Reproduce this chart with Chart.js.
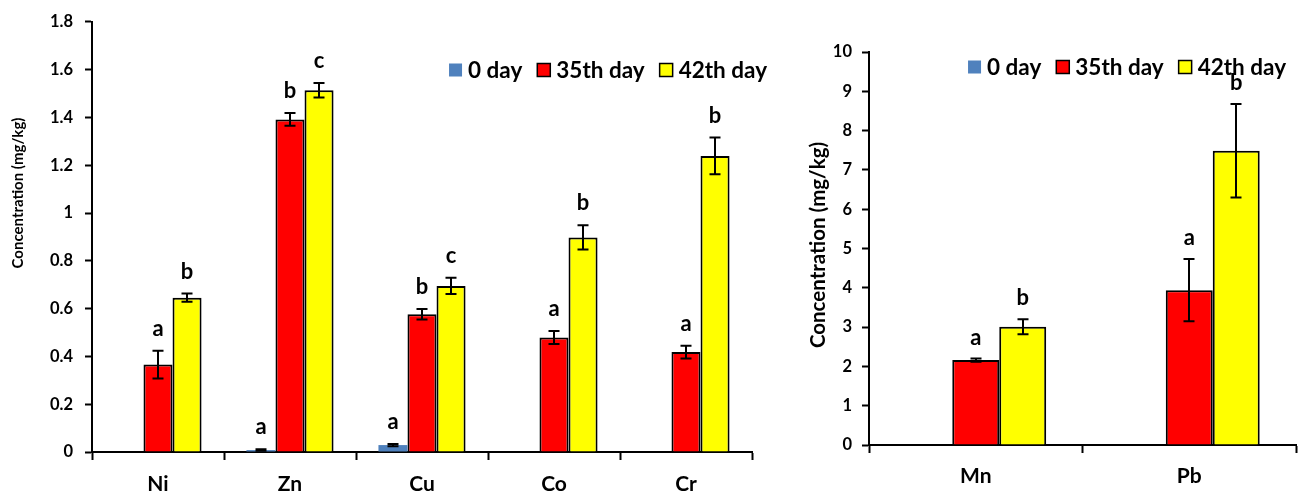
<!DOCTYPE html>
<html>
<head>
<meta charset="utf-8">
<script src="https://cdn.jsdelivr.net/npm/chart.js@4"></script>
<style>
  html, body { margin: 0; padding: 0; background: #fff; }
  #wrap { position: relative; width: 1303px; height: 494px; }
  #cL { position: absolute; left: 0; top: 0; }
  #cR { position: absolute; left: 790px; top: 0; }
</style>
</head>
<body>
<div id="wrap">
  <canvas id="cL" width="790" height="494"></canvas>
  <canvas id="cR" width="513" height="494"></canvas>
</div>
<script>
// ---------- data ----------
const seriesLabels = ['0 day', '35th day', '42th day'];

const categoriesL = ['Ni', 'Zn', 'Cu', 'Co', 'Cr'];
const day0L  = [null, 0.008, 0.029, null, null];
const day35L = [0.366, 1.392, 0.576, 0.479, 0.418];
const day42L = [0.646, 1.514, 0.695, 0.898, 1.239];
const err0L  = [null, 0.003, 0.005, null, null];
const err35L = [0.058, 0.027, 0.022, 0.027, 0.027];
const err42L = [0.017, 0.030, 0.034, 0.051, 0.077];
const let0L  = ['', 'a', 'a', '', ''];
const let35L = ['a', 'b', 'b', 'a', 'a'];
const let42L = ['b', 'c', 'c', 'b', 'b'];
const yTicksL = { min: 0, max: 1.8, step: 0.2 };

const categoriesR = ['Mn', 'Pb'];
const day0R  = [null, null];
const day35R = [2.16, 3.94];
const day42R = [3.01, 7.49];
const err0R  = [null, null];
const err35R = [0.04, 0.79];
const err42R = [0.19, 1.19];
const let0R  = ['', ''];
const let35R = ['a', 'a'];
const let42R = ['b', 'b'];
const yTicksR = { min: 0, max: 10, step: 1 };

const yTitle = 'Concentration (mg/kg)';

// ---------- styles ----------
const FONT = 'Lato, "Open Sans", sans-serif';
const colors = ['#4F81BD', '#FF0000', '#FFFF00'];
const borders = [0, 2, 2];

// ---------- plugins ----------
const errorBarsPlugin = {
  id: 'errorBars',
  afterDatasetsDraw(chart, args, opts) {
    const ctx = chart.ctx;
    const ys = chart.scales.y;
    ctx.save();
    ctx.strokeStyle = '#000';
    ctx.lineWidth = opts.lineWidth;
    chart.data.datasets.forEach((ds, i) => {
      const meta = chart.getDatasetMeta(i);
      meta.data.forEach((el, j) => {
        const v = ds.data[j], e = ds.errors[j];
        if (v == null || e == null) return;
        const x = Math.round(el.x);
        const yt = ys.getPixelForValue(v + e);
        const yb = ys.getPixelForValue(Math.max(0, v - e));
        ctx.beginPath();
        ctx.moveTo(x, yt); ctx.lineTo(x, yb);
        ctx.moveTo(x - opts.cap, yt); ctx.lineTo(x + opts.cap, yt);
        ctx.moveTo(x - opts.cap, yb); ctx.lineTo(x + opts.cap, yb);
        ctx.stroke();
      });
    });
    // letters
    ctx.fillStyle = '#000';
    ctx.font = 'bold ' + opts.letterSize + 'px ' + FONT;
    ctx.textAlign = 'center';
    ctx.textBaseline = 'middle';
    chart.data.datasets.forEach((ds, i) => {
      const meta = chart.getDatasetMeta(i);
      meta.data.forEach((el, j) => {
        const v = ds.data[j], e = ds.errors[j] || 0, l = ds.letters[j];
        if (v == null || !l) return;
        const yt = ys.getPixelForValue(v + e);
        ctx.fillText(l, el.x, yt - opts.letterOffset);
      });
    });
    ctx.restore();
  }
};

const customLegendPlugin = {
  id: 'customLegend',
  afterDraw(chart, args, opts) {
    const ctx = chart.ctx;
    ctx.save();
    ctx.font = 'bold ' + opts.size + 'px ' + FONT;
    ctx.textBaseline = 'middle';
    ctx.textAlign = 'left';
    const sq = opts.box, gapIn = 6, gapOut = 15;
    const items = chart.data.datasets.map(d => ({ label: d.label, bg: d.backgroundColor, bw: d.borderWidth }));
    let total = 0;
    items.forEach((it, k) => {
      total += sq + gapIn + ctx.measureText(it.label).width + (k < items.length - 1 ? gapOut : 0);
    });
    let x = opts.right - total;
    const y = opts.y;
    items.forEach(it => {
      ctx.fillStyle = it.bg;
      ctx.fillRect(x, y - sq / 2, sq, sq);
      if (it.bw) {
        ctx.strokeStyle = '#000';
        ctx.lineWidth = 1.5;
        ctx.strokeRect(x, y - sq / 2, sq, sq);
      }
      x += sq + gapIn;
      ctx.fillStyle = '#000';
      ctx.fillText(it.label, x, y + 1);
      x += ctx.measureText(it.label).width + gapOut;
    });
    // y title
    ctx.font = 'bold ' + opts.titleSize + 'px ' + FONT;
    ctx.textAlign = 'center';
    ctx.translate(opts.titleX, opts.titleY);
    ctx.rotate(-Math.PI / 2);
    ctx.fillText(yTitle, 0, 0);
    ctx.restore();
  }
};

function makeChart(id, cats, vals, errs, lets, yt, geo) {
  const datasets = seriesLabels.map((lab, i) => ({
    label: lab,
    data: vals[i],
    errors: errs[i],
    letters: lets[i],
    backgroundColor: colors[i],
    borderColor: '#000',
    borderWidth: borders[i],
    categoryPercentage: 0.66,
    barPercentage: 1.0
  }));
  return new Chart(document.getElementById(id), {
    type: 'bar',
    data: { labels: cats, datasets },
    options: {
      responsive: false,
      animation: false,
      layout: { padding: { top: geo.top, right: geo.right, left: 0, bottom: 0 } },
      plugins: {
        legend: { display: false },
        tooltip: { enabled: false },
        errorBars: { lineWidth: geo.errW, cap: geo.cap, letterSize: geo.letterSize, letterOffset: geo.letterOffset },
        customLegend: { size: geo.legSize, box: geo.legBox, right: geo.legRight, y: geo.legY,
                        titleSize: geo.titleSize, titleX: geo.titleX, titleY: geo.titleY }
      },
      scales: {
        x: {
          grid: { drawOnChartArea: false, drawTicks: true, tickLength: 8, tickWidth: 2, tickColor: '#000', offset: true },
          border: { color: '#000', width: 2 },
          ticks: { color: '#000', font: { family: FONT, size: geo.xSize, weight: 'bold' }, padding: geo.xPad },
          afterFit(s) { s.height = geo.xH; }
        },
        y: {
          min: yt.min, max: yt.max,
          grid: { drawOnChartArea: false, drawTicks: true, tickLength: 7, tickWidth: 2, tickColor: '#000' },
          border: { color: '#000', width: 2 },
          ticks: {
            stepSize: yt.step, color: '#000', padding: geo.yPad,
            font: { family: FONT, size: geo.ySize, weight: 'bold' },
            callback: v => String(+v.toFixed(1))
          },
          afterFit(s) { s.width = geo.yW; }
        }
      }
    },
    plugins: [errorBarsPlugin, customLegendPlugin]
  });
}

makeChart('cL', categoriesL, [day0L, day35L, day42L], [err0L, err35L, err42L], [let0L, let35L, let42L], yTicksL, {
  top: 19, right: 38, xH: 42, yW: 92, xSize: 21, xPad: 12, ySize: 16.5, yPad: 12,
  errW: 2, cap: 5.5, letterSize: 22, letterOffset: 22,
  legSize: 22.5, legBox: 13, legRight: 767, legY: 70,
  titleSize: 15, titleX: 18, titleY: 193
});

makeChart('cR', categoriesR, [day0R, day35R, day42R], [err0R, err35R, err42R], [let0R, let35R, let42R], yTicksR, {
  top: 52, right: 7, xH: 49, yW: 79, xSize: 21, xPad: 11, ySize: 16.5, yPad: 10,
  errW: 2, cap: 5.5, letterSize: 22, letterOffset: 21,
  legSize: 22.5, legBox: 13, legRight: 496, legY: 67,
  titleSize: 20.5, titleX: 28, titleY: 245
});
</script>
</body>
</html>
